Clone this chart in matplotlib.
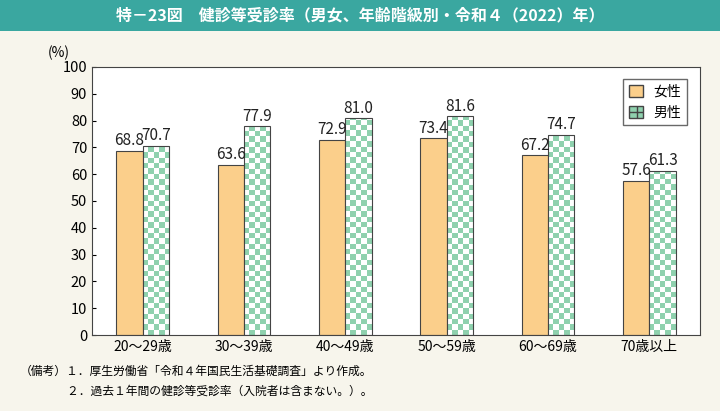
import numpy as np
import matplotlib
matplotlib.use("Agg")
import matplotlib.pyplot as plt
from matplotlib.patches import Patch

plt.rcParams["font.family"] = "Noto Sans CJK JP"
plt.rcParams["hatch.color"] = "white"

categories = ["20～29歳", "30～39歳", "40～49歳", "50～59歳", "60～69歳", "70歳以上"]
female = [68.8, 63.6, 72.9, 73.4, 67.2, 57.6]
male = [70.7, 77.9, 81.0, 81.6, 74.7, 61.3]

fig = plt.figure(figsize=(7.2, 4.11), dpi=100, facecolor="#f7f5ec")
# title band
fig.patches.append(plt.Rectangle((0, 0.925), 1, 0.075, transform=fig.transFigure,
                                 facecolor="#3aa7a0", edgecolor="none"))
fig.text(0.5, 0.962, "特－23図　健診等受診率（男女、年齢階級別・令和４（2022）年）",
         ha="center", va="center", color="white", fontsize=11.5, fontweight="bold")

ax = fig.add_axes([92/720, 1-335/411, (700-92)/720, (335-67)/411])
ax.set_facecolor("white")
x = np.arange(len(categories))
w = 0.26
bf = ax.bar(x - w/2, female, w, color="#fbcf8b", edgecolor="#444444", linewidth=0.8)
bm = ax.bar(x + w/2, male, w, color="none", edgecolor="#444444", linewidth=0.8, zorder=3)

# checkerboard fill for male bars: ~5 cells across, ~2 units tall
chk = np.indices((50, 5)).sum(axis=0) % 2
cmap = matplotlib.colors.ListedColormap(["white", "#8fd1ae"])
for b in bm:
    x0 = b.get_x()
    im = ax.imshow(chk, cmap=cmap, extent=[x0, x0 + w, 0, 100], aspect="auto",
                   interpolation="nearest", zorder=2, origin="lower")
    im.set_clip_path(b)

for xi, f, m in zip(x, female, male):
    ax.text(xi - w/2, f + 0.5, f"{f:.1f}", ha="center", va="bottom", fontsize=11, color="#222222")
    ax.text(xi + w/2, m + 0.5, f"{m:.1f}", ha="center", va="bottom", fontsize=11, color="#222222")

ax.set_xlim(-0.5, len(categories) - 0.5)
ax.set_ylim(0, 100)
ax.set_yticks(range(0, 101, 10))
ax.set_xticks(x)
ax.set_xticklabels(categories, fontsize=10)
ax.tick_params(axis="y", labelsize=10.5, direction="in", length=3)
ax.tick_params(axis="x", length=0)
for s in ax.spines.values():
    s.set_color("#444444")
ax.text(-0.055, 1.035, "(%)", transform=ax.transAxes, fontsize=10, ha="center")

handles = [Patch(facecolor="#fbcf8b", edgecolor="#444444", label="女性"),
           Patch(facecolor="#8fd1ae", edgecolor="#444444", hatch="++", label="男性")]
ax.legend(handles=handles, loc="upper right", bbox_to_anchor=(0.99, 0.98),
          fontsize=10, frameon=True, fancybox=False, edgecolor="#444444",
          handlelength=1.0, handleheight=1.0)

fig.text(0.028, 0.087, "（備考）１．厚生労働省「令和４年国民生活基礎調査」より作成。", fontsize=8.5)
fig.text(0.028, 0.040, "　　　　２．過去１年間の健診等受診率（入院者は含まない。）。", fontsize=8.5)

fig.savefig("out.png", dpi=100, facecolor=fig.get_facecolor())
